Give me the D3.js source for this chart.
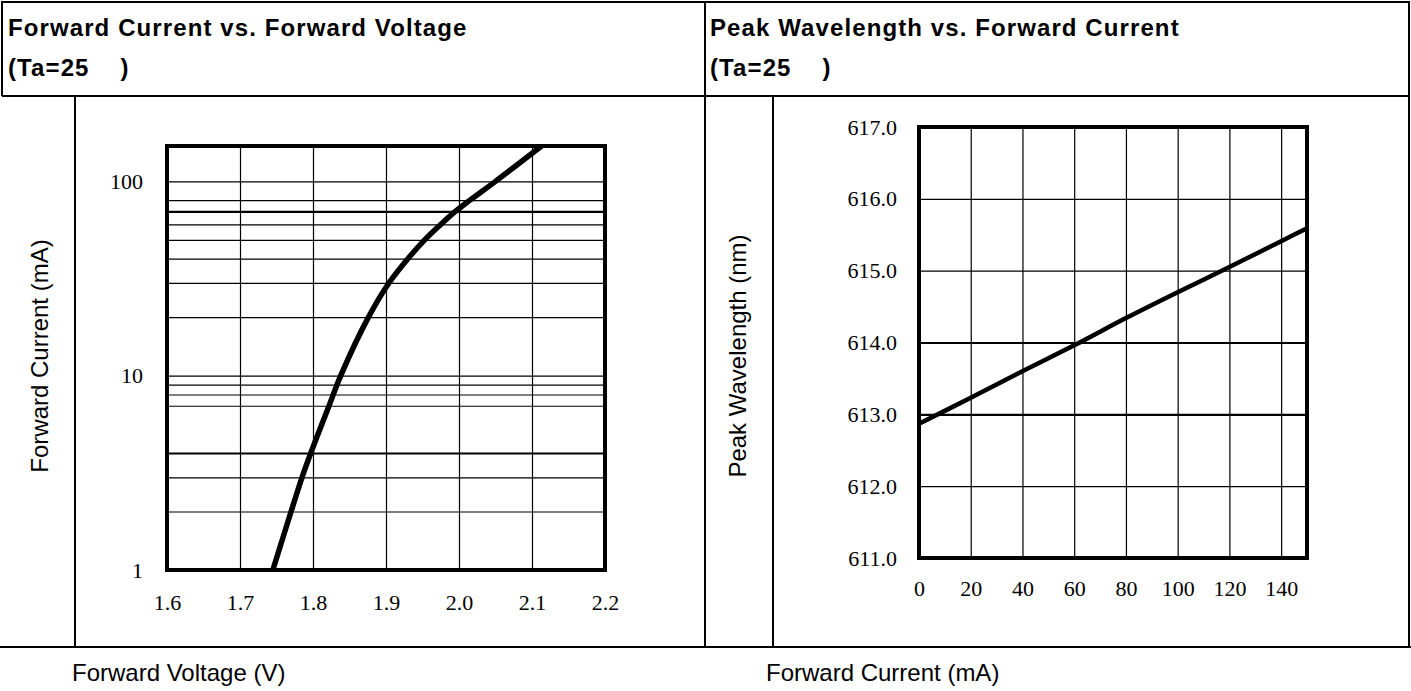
<!DOCTYPE html>
<html>
<head>
<meta charset="utf-8">
<script src="https://cdn.jsdelivr.net/npm/d3@7"></script>
<style>
  body { margin: 0; background: #fff; }
  .title { font-family: 'Liberation Sans', Arial, sans-serif; font-weight: bold; font-size: 24px; letter-spacing: 1.1px; white-space: pre; }
  .label { font-family: 'Liberation Sans', Arial, sans-serif; font-size: 24px; }
  .tick text { font-family: 'Liberation Serif', 'Times New Roman', serif; font-size: 22px; fill: #000; }
</style>
</head>
<body>
<svg id="chart" width="1411" height="691"></svg>
<script>
/* global d3 */

// forward current vs forward voltage
const fvVoltage = [1.745, 1.770, 1.785, 1.797, 1.822, 1.838, 1.876, 1.904, 1.930, 1.953, 1.975, 1.995, 2.015, 2.050, 2.113]
const fvCurrent = [1, 2, 3, 4, 7, 10, 20, 30, 40, 50, 60, 70, 80, 100, 152]
const voltageTicks = [1.6, 1.7, 1.8, 1.9, 2.0, 2.1, 2.2]
const currentGrid = [2, 3, 4, 7, 8, 9, 10, 20, 30, 40, 50, 60, 70, 80, 100]
const currentGridThick = [4, 70]
const currentLabels = [1, 10, 100]

// peak wavelength vs forward current
const wlCurrent = [0, 20, 40, 60, 80, 100, 120, 140, 150]
const wlPeak = [612.87, 613.23, 613.60, 613.96, 614.34, 614.70, 615.05, 615.41, 615.59]
const wlCurrentTicks = [0, 20, 40, 60, 80, 100, 120, 140]
const wlTicks = [611, 612, 613, 614, 615, 616, 617]
const wlGridThick = [613, 614]

const titles = ['Forward Current vs. Forward Voltage', 'Peak Wavelength vs. Forward Current']
const subTitle = '(Ta=25    )'
const yLabels = ['Forward Current (mA)', 'Peak Wavelength (nm)']
const xLabels = ['Forward Voltage (V)', 'Forward Current (mA)']

const svg = d3.select('#chart')

// table frame
const table = svg.append('g').attr('stroke', '#000').attr('stroke-width', 2)
table.append('line').attr('x1', 2).attr('y1', 2).attr('x2', 1409).attr('y2', 2)
table.append('line').attr('x1', 2).attr('y1', 96).attr('x2', 1409).attr('y2', 96)
table.append('line').attr('x1', 0).attr('y1', 647).attr('x2', 1411).attr('y2', 647)
table.append('line').attr('x1', 2).attr('y1', 1).attr('x2', 2).attr('y2', 96)
table.append('line').attr('x1', 705).attr('y1', 1).attr('x2', 705).attr('y2', 647)
table.append('line').attr('x1', 1409).attr('y1', 1).attr('x2', 1409).attr('y2', 647)
table.append('line').attr('x1', 75).attr('y1', 96).attr('x2', 75).attr('y2', 647)
table.append('line').attr('x1', 773).attr('y1', 96).attr('x2', 773).attr('y2', 647)

const cellX = [8, 710]
titles.forEach((t, i) => {
  svg.append('text').attr('class', 'title').attr('x', cellX[i]).attr('y', 36).text(t)
  svg.append('text').attr('class', 'title').attr('x', cellX[i]).attr('y', 76).text(subTitle)
})

const yLabelX = [48, 746]
yLabels.forEach((t, i) => {
  svg.append('text').attr('class', 'label')
    .attr('transform', `translate(${yLabelX[i]},356) rotate(-90)`)
    .attr('text-anchor', 'middle').text(t)
})
const xLabelX = [72, 766]
xLabels.forEach((t, i) => {
  svg.append('text').attr('class', 'label').attr('x', xLabelX[i]).attr('y', 681).text(t)
})

function styleGrid (g, thick) {
  g.select('.domain').remove()
  g.selectAll('.tick line')
    .attr('stroke', '#000')
    .attr('stroke-width', (d) => thick.includes(d) ? 2.2 : 1.2)
  g.selectAll('.tick text').remove()
}

function styleLabels (g) {
  g.select('.domain').remove()
  g.selectAll('.tick line').remove()
}

// ---- left chart
{
  const left = 167
  const right = 605
  const top = 146
  const bottom = 570
  const x = d3.scaleLinear().domain([1.6, 2.2]).range([left, right])
  const y = d3.scaleLog().domain([1, 152]).range([bottom, top])
  const g = svg.append('g')

  g.append('g').attr('transform', `translate(0,${bottom})`)
    .call(d3.axisBottom(x).tickValues(voltageTicks).tickSize(-(bottom - top)))
    .call((s) => styleGrid(s, []))
  g.append('g').attr('transform', `translate(${left},0)`)
    .call(d3.axisLeft(y).tickValues(currentGrid).tickSize(-(right - left)))
    .call((s) => styleGrid(s, currentGridThick))

  g.append('g').attr('transform', `translate(0,${bottom})`)
    .call(d3.axisBottom(x).tickValues(voltageTicks).tickSize(0).tickPadding(24).tickFormat(d3.format('.1f')))
    .call(styleLabels)
  g.append('g').attr('transform', `translate(${left},0)`)
    .call(d3.axisLeft(y).tickValues(currentLabels).tickSize(0).tickPadding(24).tickFormat(d3.format('d')))
    .call(styleLabels)

  svg.append('clipPath').attr('id', 'clip-left')
    .append('rect').attr('x', left).attr('y', top).attr('width', right - left).attr('height', bottom - top)

  const line = d3.line()
    .x((d, i) => x(fvVoltage[i]))
    .y((d) => y(d))
    .curve(d3.curveCatmullRom)
  g.append('path')
    .datum(fvCurrent)
    .attr('clip-path', 'url(#clip-left)')
    .attr('fill', 'none')
    .attr('stroke', '#000')
    .attr('stroke-width', 5.5)
    .attr('d', line)

  g.append('rect').attr('x', left).attr('y', top).attr('width', right - left).attr('height', bottom - top)
    .attr('fill', 'none').attr('stroke', '#000').attr('stroke-width', 4)
}

// ---- right chart
{
  const left = 919
  const right = 1307
  const top = 127
  const bottom = 558
  const x = d3.scaleLinear().domain([0, 150]).range([left, right])
  const y = d3.scaleLinear().domain([611, 617]).range([bottom, top])
  const g = svg.append('g')

  g.append('g').attr('transform', `translate(0,${bottom})`)
    .call(d3.axisBottom(x).tickValues(wlCurrentTicks).tickSize(-(bottom - top)))
    .call((s) => styleGrid(s, []))
  g.append('g').attr('transform', `translate(${left},0)`)
    .call(d3.axisLeft(y).tickValues(wlTicks).tickSize(-(right - left)))
    .call((s) => styleGrid(s, wlGridThick))

  g.append('g').attr('transform', `translate(0,${bottom})`)
    .call(d3.axisBottom(x).tickValues(wlCurrentTicks).tickSize(0).tickPadding(22).tickFormat(d3.format('d')))
    .call(styleLabels)
  g.append('g').attr('transform', `translate(${left},0)`)
    .call(d3.axisLeft(y).tickValues(wlTicks).tickSize(0).tickPadding(22).tickFormat(d3.format('.1f')))
    .call(styleLabels)

  const line = d3.line()
    .x((d, i) => x(wlCurrent[i]))
    .y((d) => y(d))
    .curve(d3.curveCatmullRom)
  g.append('path')
    .datum(wlPeak)
    .attr('fill', 'none')
    .attr('stroke', '#000')
    .attr('stroke-width', 4.5)
    .attr('d', line)

  g.append('rect').attr('x', left).attr('y', top).attr('width', right - left).attr('height', bottom - top)
    .attr('fill', 'none').attr('stroke', '#000').attr('stroke-width', 4)
}
</script>
</body>
</html>
